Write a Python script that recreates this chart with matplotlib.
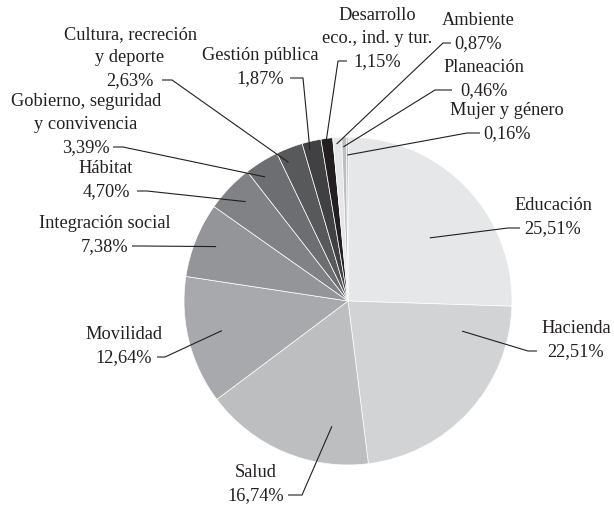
# Distribución del gasto por sector (pie con etiquetas externas)

import numpy as np
import matplotlib
matplotlib.use("Agg")
import matplotlib.pyplot as plt

# --- Data ---
sectores = ["Educación", "Hacienda", "Salud", "Movilidad", "Integración social",
            "Hábitat", "Gobierno, seguridad\ny convivencia",
            "Cultura, recreción\ny deporte", "Gestión pública",
            "Desarrollo\neco., ind. y tur.", "Ambiente", "Planeación",
            "Mujer y género"]
participacion = [25.51, 22.51, 16.74, 12.64, 7.38, 4.70, 3.39, 2.63, 1.87,
                 1.15, 0.87, 0.46, 0.16]
colores = ["#e6e7e8", "#d1d3d4", "#bcbec0", "#a7a9ac", "#939598", "#808285",
           "#6d6e71", "#58595b", "#414042", "#231f20", "#e6e7e8", "#bcbec0",
           "#a7a9ac"]

# --- Layout (pixels from top-left of a 614x505 canvas) ---
W, H = 614, 505
centro = (348, 301)
radio = 164
# text centre x, pct line y, dash start x, elbow x, position in wedge, radius fraction
etiquetas = [
    (553, 228, 520, 508, 0.57, 0.63),
    (576, 351, 537, 528, 0.16, 0.72),
    (256, 495, 288, 302, 0.24, 0.77),
    (124, 357, 157, 165, 0.52, 0.79),
    (105, 246, 132, 140, 0.52, 0.87),
    (106, 191, 137, 147, 0.53, 0.87),
    (86, 147, 113, 123, 0.34, 0.91),
    (130, 80, 162, 172, 0.26, 0.92),
    (260, 78, 290, 303, 0.31, 0.95),
    (377, 61, 347, 338, 0.36, 0.97),
    (478, 43, 451, 443, 0.39, 0.96),
    (484, 90, 452, 435, 0.30, 0.94),
    (507, 133, 480, 467, 0.50, 0.89),
]

def fy(y):
    return H - y

plt.rcParams['font.family'] = ['Liberation Serif', 'DejaVu Serif']
fig = plt.figure(figsize=(6.14, 5.05), dpi=100)
ax = fig.add_axes([0, 0, 1, 1])

wedges, _ = ax.pie(participacion, colors=colores, startangle=90,
                   counterclock=False, center=(centro[0], fy(centro[1])),
                   radius=radio,
                   wedgeprops=dict(edgecolor='white', linewidth=0.5))
ax.set_xlim(0, W)
ax.set_ylim(0, H)
ax.set_aspect('equal')
ax.axis('off')

fs = 13.2
salto = 23
for w, nombre, valor, (cx, yp, x0, xe, t, rf) in zip(
        wedges, sectores, participacion, etiquetas):
    # anchor point inside the wedge (clockwise from its start)
    ang = np.deg2rad(w.theta2 - t * (w.theta2 - w.theta1))
    ax_x = w.center[0] + rf * radio * np.cos(ang)
    ax_y = w.center[1] + rf * radio * np.sin(ang)
    ax.plot([x0, xe, ax_x], [fy(yp), fy(yp), ax_y], color='#231f20',
            lw=0.8, solid_capstyle='butt')

    lineas = nombre.split("\n") + [f"{valor:.2f}%".replace('.', ',')]
    n = len(lineas)
    for i, linea in enumerate(lineas):
        y = yp - (n - 1 - i) * salto
        ax.text(cx, fy(y + 5), linea, ha='center', va='baseline',
                fontsize=fs, color='#231f20')

fig.savefig("out.png", dpi=100, facecolor='white')
